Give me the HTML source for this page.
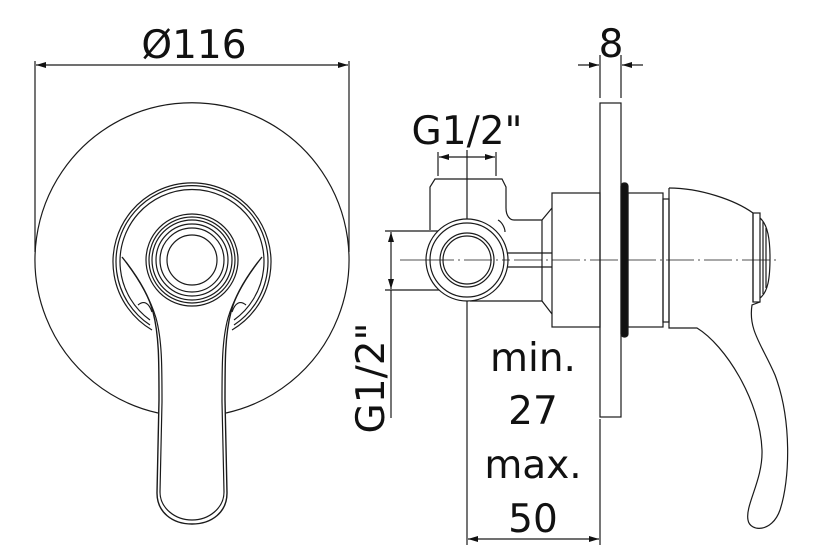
<!DOCTYPE html>
<html><head><meta charset="utf-8"><style>
html,body{margin:0;padding:0;background:#fff}
svg{display:block}
text{font-family:"DejaVu Sans","Liberation Sans",sans-serif;fill:#111}
</style></head><body>
<svg width="820" height="557" viewBox="0 0 820 557" xmlns="http://www.w3.org/2000/svg">
<defs>
<marker id="a" markerWidth="10" markerHeight="6" refX="10" refY="3" orient="auto-start-reverse" markerUnits="userSpaceOnUse"><path d="M0,0 L10,3 L0,6 z" fill="#111"/></marker>
</defs>
<g fill="none" stroke="#1a1a1a" stroke-width="1.2">
<!-- LEFT VIEW -->
<line x1="35" y1="61" x2="35" y2="252"/>
<line x1="349" y1="61" x2="349" y2="252"/>
<line x1="36" y1="65" x2="348" y2="65" marker-start="url(#a)" marker-end="url(#a)"/>
<path d="M158,413 A157,157 0 1 1 226,413"/>
<path d="M152,330 A79,79 0 1 1 232,330"/>
<path d="M150,325 A76,76 0 1 1 234,325"/>
<path d="M150,320 A72,72 0 1 1 234,320"/>
<circle cx="192" cy="260" r="46"/>
<circle cx="192" cy="260" r="43"/>
<circle cx="192" cy="260" r="40"/>
<circle cx="192" cy="260" r="36"/>
<circle cx="192" cy="260" r="32"/>
<circle cx="192" cy="260" r="25"/>
<path d="M122,257 C134,272 148,292 153,312 C159,335 159,360 159,400 L157,493 C157,512 172,524 192,524 C212,524 227,512 227,493 L225,400 C225,360 225,335 231,312 C236,292 250,272 262,257" stroke-width="1.4"/>
<path d="M126,262 C138,278 150,298 156,318 C162,340 162,365 162,402 L160,492 C160,508 175,520 192,520 C209,520 224,508 224,492 L222,402 C222,365 222,340 228,318 C234,298 246,278 258,262"/>
<path d="M138,305 C144,300 149,303 152,312 M246,305 C240,300 235,303 232,312"/>
<!-- RIGHT VIEW -->
<line x1="400" y1="260" x2="776" y2="260" stroke-dasharray="28,4,2,4" stroke-width="0.8"/>
<line x1="467" y1="150" x2="467" y2="545"/>
<line x1="438" y1="152" x2="438" y2="176"/>
<line x1="496" y1="152" x2="496" y2="176"/>
<line x1="439" y1="157" x2="495" y2="157" marker-start="url(#a)" marker-end="url(#a)"/>
<line x1="600" y1="55" x2="600" y2="98"/>
<line x1="621" y1="55" x2="621" y2="98"/>
<line x1="578" y1="65" x2="599" y2="65" marker-end="url(#a)"/>
<line x1="643" y1="65" x2="622" y2="65" marker-end="url(#a)"/>
<rect x="600" y="103" width="21" height="314"/>
<line x1="600" y1="419" x2="600" y2="545"/>
<line x1="468" y1="539" x2="599" y2="539" marker-start="url(#a)" marker-end="url(#a)"/>
<!-- vertical G1/2 dim -->
<line x1="385" y1="231" x2="470" y2="231"/>
<line x1="385" y1="290" x2="470" y2="290"/>
<line x1="391" y1="232" x2="391" y2="289" marker-start="url(#a)" marker-end="url(#a)"/>
<line x1="391" y1="290" x2="391" y2="418"/>
<!-- fitting -->
<path d="M430,230 L430,187 L435,179 L502,179 L506,187 L506,208 C506,216 510,220 514,220 L542,220 L552,208"/>
<path d="M498,220 C502,222 505,228 505,232"/>
<path d="M542,220 L542,301 L552,314"/>
<path d="M470,301 L542,301"/>
<line x1="507" y1="253" x2="552" y2="253"/>
<line x1="507" y1="267" x2="552" y2="267"/>
<circle cx="467" cy="260" r="41" fill="#fff"/>
<circle cx="467" cy="260" r="37"/>
<circle cx="467" cy="260" r="27"/>
<circle cx="467" cy="260" r="24"/>
<line x1="426" y1="260" x2="508" y2="260" stroke-dasharray="28,4,2,4" stroke-width="0.8"/>
<rect x="552" y="193" width="48" height="134"/>
<rect x="621" y="183" width="7" height="154" rx="3" fill="#111"/>
<rect x="628" y="193" width="35" height="134"/>
<rect x="663" y="199" width="6" height="123"/>
<path d="M669,188 L669,328 L697,328 C725,345 760,400 762,450 C763,480 745,505 748,520 C750,532 772,533 780,510 C790,480 792,420 775,375 C762,345 748,330 752,305 L760,302"/>
<path d="M669,188 C700,188 735,200 753,213 L753,302"/>
<rect x="753" y="213" width="7" height="89"/>
<path d="M760,218 C768,225 770,240 770,258 C770,278 768,292 760,298"/>
<path d="M763,222 L763,294 M766,228 L766,288"/>
</g>
<g text-anchor="middle" font-size="39">
<text x="194" y="58">Ø116</text>
<text x="611" y="57">8</text>
<text x="467" y="144">G1/2"</text>
<text x="533" y="371">min.</text>
<text x="533" y="424">27</text>
<text x="533" y="478">max.</text>
<text x="533" y="532">50</text>
<text transform="translate(384,378) rotate(-90)">G1/2"</text>
</g>
</svg>
</body></html>
